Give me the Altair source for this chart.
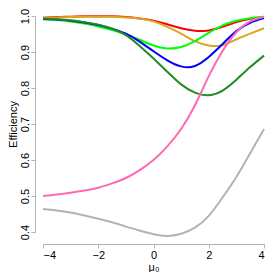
import altair as alt
import pandas as pd

x_vals = [-4, -3.5, -3, -2.5, -2, -1.5, -1, -0.5, 0, 0.5, 1, 1.5, 2, 2.5, 3, 3.5, 4]

red = [0.995, 0.997, 0.998, 0.999, 0.999, 0.999, 0.997, 0.993, 0.987, 0.977, 0.966, 0.959, 0.960, 0.970, 0.983, 0.992, 0.997]
gold = [0.995, 0.996, 0.997, 0.998, 0.998, 0.998, 0.996, 0.993, 0.985, 0.970, 0.951, 0.930, 0.918, 0.919, 0.935, 0.951, 0.966]
lime = [0.991, 0.989, 0.985, 0.979, 0.971, 0.961, 0.949, 0.934, 0.918, 0.910, 0.914, 0.930, 0.953, 0.974, 0.987, 0.994, 0.998]
blue = [0.992, 0.990, 0.987, 0.982, 0.975, 0.965, 0.951, 0.929, 0.902, 0.877, 0.860, 0.861, 0.886, 0.922, 0.958, 0.981, 0.994]
dgreen = [0.993, 0.991, 0.988, 0.983, 0.976, 0.965, 0.947, 0.917, 0.882, 0.845, 0.810, 0.787, 0.780, 0.793, 0.823, 0.858, 0.890]
pink = [0.500, 0.504, 0.509, 0.515, 0.523, 0.535, 0.550, 0.572, 0.600, 0.638, 0.686, 0.752, 0.833, 0.903, 0.955, 0.985, 0.998]
gray = [0.464, 0.460, 0.454, 0.446, 0.437, 0.427, 0.415, 0.404, 0.394, 0.389, 0.395, 0.412, 0.445, 0.496, 0.553, 0.619, 0.686]

series = [
    ("red", red, "#FF0000"),
    ("gold", gold, "#DAA520"),
    ("lime", lime, "#00FF00"),
    ("blue", blue, "#0000FF"),
    ("dgreen", dgreen, "#228B22"),
    ("pink", pink, "#FF69B4"),
    ("gray", gray, "#B3B3B3"),
]

rows = []
for name, vals, _ in series:
    for xv, yv in zip(x_vals, vals):
        rows.append({"series": name, "x": xv, "y": yv})
df = pd.DataFrame(rows)

axis_color = "#B3B3B3"
xscale = alt.Scale(domain=[-4, 4], nice=False, zero=False)
yscale = alt.Scale(domain=[0.4, 1.0], nice=False, zero=False)

xaxis = alt.Axis(values=[-4, -2, 0, 2, 4], title="μ₀", grid=False, offset=12,
                 tickSize=4, domainColor=axis_color, tickColor=axis_color,
                 labelFontSize=11, titleFontSize=11, labelPadding=1,
                 titleX=110.5, titleY=23, titleBaseline="middle", titleAlign="center",
                 labelColor="black", titleColor="black", titleFontWeight="normal",
                 labelFont="Liberation Sans", titleFont="Liberation Sans")
yaxis = alt.Axis(values=[0.4, 0.5, 0.6, 0.7, 0.8, 0.9, 1.0], format=".1f", title="Efficiency",
                 grid=False, offset=8, tickSize=4, domainColor=axis_color, tickColor=axis_color,
                 labelAngle=270, labelAlign="center", labelBaseline="bottom",
                 labelFontSize=11, titleFontSize=11, labelPadding=1,
                 titleX=-19, titleY=108, titleAngle=270, titleBaseline="alphabetic", titleAlign="center",
                 labelColor="black", titleColor="black", titleFontWeight="normal",
                 labelFont="Liberation Sans", titleFont="Liberation Sans")

layers = []
for name, vals, col in series:
    layers.append(
        alt.Chart(df).transform_filter(alt.datum.series == name)
        .mark_line(color=col, strokeWidth=2, interpolate="natural", clip=False)
        .encode(
            x=alt.X("x:Q", scale=xscale, axis=xaxis),
            y=alt.Y("y:Q", scale=yscale, axis=yaxis),
        )
    )

chart = alt.layer(*layers).properties(
    width=221, height=216,
    autosize=alt.AutoSizeParams(type="none"),
    padding={"left": 35, "top": 8, "right": 8, "bottom": 40},
).configure_view(stroke=None)

chart.save("out.html", embed_options={"renderer": "svg", "actions": False})
